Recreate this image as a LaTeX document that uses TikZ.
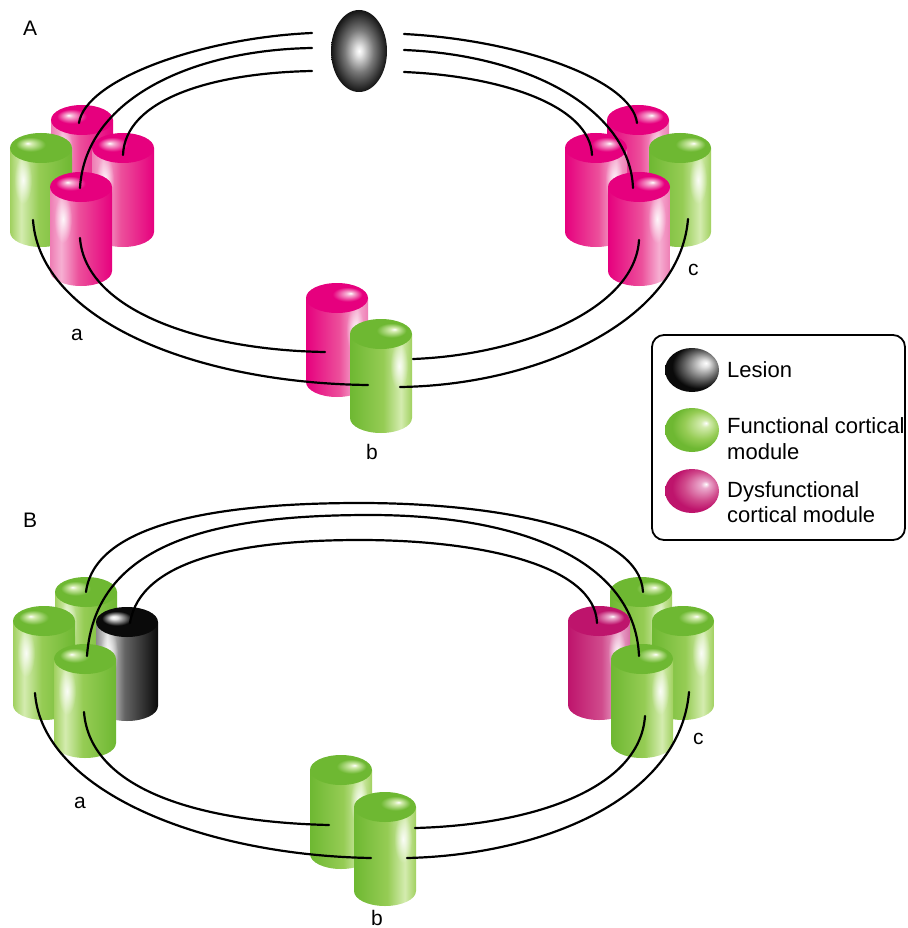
\documentclass[tikz,border=0pt]{standalone}
\usepackage{fontspec}
\setmainfont{Liberation Sans}
\usetikzlibrary{fadings}

\definecolor{pkD}{RGB}{230,0,126}
\definecolor{pkM}{RGB}{236,80,155}
\definecolor{pkL}{RGB}{246,175,210}
\definecolor{pkE}{RGB}{238,125,180}
\definecolor{grD}{RGB}{110,184,50}
\definecolor{grM}{RGB}{150,204,85}
\definecolor{grL}{RGB}{212,236,175}
\definecolor{grE}{RGB}{160,208,95}
\definecolor{dmD}{RGB}{190,20,108}
\definecolor{dmM}{RGB}{208,75,140}
\definecolor{dmL}{RGB}{235,170,205}
\definecolor{dmE}{RGB}{215,110,165}
\definecolor{bkD}{RGB}{10,10,10}
\definecolor{bkM}{RGB}{100,100,100}
\definecolor{bkL}{RGB}{225,225,225}
\definecolor{bkE}{RGB}{140,140,140}
\definecolor{lgA}{RGB}{230,230,230}
\definecolor{lgB}{RGB}{120,120,120}
\definecolor{lgC}{RGB}{20,20,20}

\newcommand\mkshade[5]{%
 \pgfdeclarehorizontalshading{#1bodyR}{100bp}{color(0bp)=(#2); color(25bp)=(#2); color(52bp)=(#3); color(66bp)=(#4); color(75bp)=(#5); color(100bp)=(#5)}%
 \pgfdeclarehorizontalshading{#1bodyL}{100bp}{color(0bp)=(#5); color(25bp)=(#5); color(34bp)=(#4); color(48bp)=(#3); color(75bp)=(#2); color(100bp)=(#2)}%
 \pgfdeclareradialshading{#1topR}{\pgfpoint{11bp}{8bp}}{color(0bp)=(white); color(3bp)=(#4); color(12bp)=(#2); color(50bp)=(#2)}%
 \pgfdeclareradialshading{#1topL}{\pgfpoint{-11bp}{8bp}}{color(0bp)=(white); color(3bp)=(#4); color(12bp)=(#2); color(50bp)=(#2)}%
 \pgfdeclareradialshading{#1ball}{\pgfpoint{13bp}{8bp}}{color(0bp)=(white); color(4bp)=(#4); color(16bp)=(#3); color(25bp)=(#2); color(50bp)=(#2)}%
}
\mkshade{pk}{pkD}{pkM}{pkL}{pkE}
\mkshade{gr}{grD}{grM}{grL}{grE}
\mkshade{dm}{dmD}{dmM}{dmL}{dmE}
\mkshade{bk}{bkD}{bkM}{bkL}{bkE}
\pgfdeclareradialshading{lesionsh}{\pgfpoint{0bp}{0bp}}{color(0bp)=(white); color(3bp)=(lgA); color(13bp)=(lgB); color(25bp)=(lgC); color(50bp)=(lgC)}
\tikzfading[name=glowfade, inner color=transparent!0, outer color=transparent!100]

\def\sgnL{(-1)}
\def\sgnR{(1)}
% cylinder: centre x, top-centre y (pixels, downward), colour family, light side
\newcommand\cyl[4]{%
 \shade[shading=#3body#4] ({#1-31},{-(#2)}) -- ({#1-31},{-(#2)-84})
   arc[start angle=180,end angle=360,x radius=31,y radius=15] -- ({#1+31},{-(#2)}) -- cycle;
 \fill[white,path fading=glowfade,opacity=0.9] ({#1+\csname sgn#4\endcsname*18},{-(#2)-32}) ellipse[x radius=9,y radius=24];
 \shade[shading=#3top#4] (#1,{-(#2)}) ellipse[x radius=31,y radius=15];
}

\begin{document}
\begin{tikzpicture}[x=1pt,y=1pt,
  fiber/.style={line width=2.2pt,line cap=round,black},
  lab/.style={font=\fontsize{21}{25}\selectfont,inner sep=0pt,anchor=base west},
  legtext/.style={font=\fontsize{22}{26}\selectfont,inner sep=0pt,anchor=base west}]
\fill[white] (0,0) rectangle (907,-928);
\useasboundingbox (0,0) rectangle (907,-928);

% ---------------- Panel A ----------------
\node[lab] (labA) at (23,-36) {A};
\shade[shading=lesionsh] (359,-51) ellipse[x radius=28,y radius=41];

\cyl{82}{120}{pk}{L}
\cyl{41}{148}{gr}{L}
\cyl{123}{148}{pk}{L}
\cyl{81}{187}{pk}{L}

\cyl{638}{120}{pk}{R}
\cyl{596}{148}{pk}{R}
\cyl{680}{148}{gr}{R}
\cyl{639}{187}{pk}{R}

\cyl{337}{298}{pk}{R}
\cyl{381}{334}{gr}{R}

\coordinate (LL1) at (312,-33);
\coordinate (LL2) at (312,-48);
\coordinate (LL3) at (312,-71);
\coordinate (LR1) at (404,-34);
\coordinate (LR2) at (404,-50);
\coordinate (LR3) at (404,-72);
\coordinate (ALback) at (79,-123);
\coordinate (ALfront) at (80,-188);
\coordinate (ALright) at (123,-155);
\coordinate (ALgreenM) at (33,-220);
\coordinate (ALfrontM) at (80,-238);
\coordinate (ARback) at (637,-123);
\coordinate (ARfront) at (633,-188);
\coordinate (ARleft) at (592,-155);
\coordinate (ARfrontM) at (639,-240);
\coordinate (ARgreenM) at (688,-219);
\coordinate (ABpink) at (325,-352);
\coordinate (ABgreenL) at (368,-385);
\coordinate (ABgreenR1) at (413,-359);
\coordinate (ABgreenR2) at (400,-387);

\draw[fiber] (LL1) .. controls (200,-38) and (85,-80) .. (ALback);
\draw[fiber] (LL2) .. controls (190,-50) and (85,-100) .. (ALfront);
\draw[fiber] (LL3) .. controls (210,-73) and (125,-100) .. (ALright);
\draw[fiber] (LR1) .. controls (520,-40) and (632,-80) .. (ARback);
\draw[fiber] (LR2) .. controls (530,-55) and (630,-110) .. (ARfront);
\draw[fiber] (LR3) .. controls (500,-76) and (590,-105) .. (ARleft);
\draw[fiber] (ALgreenM) .. controls (40,-320) and (195,-383) .. (ABgreenL);
\draw[fiber] (ALfrontM) .. controls (85,-310) and (200,-350) .. (ABpink);
\draw[fiber] (ARgreenM) .. controls (680,-320) and (540,-385) .. (ABgreenR2);
\draw[fiber] (ARfrontM) .. controls (635,-310) and (520,-355) .. (ABgreenR1);

\node[lab] (laba) at (71,-340) {a};
\node[lab] (labb) at (366,-459) {b};
\node[lab] (labc) at (688,-275) {c};

% ---------------- Legend ----------------
\draw[line width=1.8pt,rounded corners=12pt] (652,-335) rectangle (905,-540);
\shade[shading=bkball] (692,-370) ellipse[x radius=27,y radius=22];
\shade[shading=grball] (692,-430) ellipse[x radius=27,y radius=22];
\shade[shading=dmball] (692,-491) ellipse[x radius=27,y radius=22];
\node[legtext] (t1) at (727,-377) {Lesion};
\node[legtext] (t2) at (727,-433) {Functional cortical};
\node[legtext] (t3) at (727,-459) {module};
\node[legtext] (t4) at (727,-497) {Dysfunctional};
\node[legtext] (t5) at (727,-522) {cortical module};

% ---------------- Panel B ----------------
\node[lab] (labB) at (23,-527) {B};

\cyl{86}{592}{gr}{L}
\cyl{44}{621}{gr}{L}
\cyl{127}{622}{bk}{L}
\cyl{85}{659}{gr}{L}

\cyl{641}{592}{gr}{R}
\cyl{599}{621}{dm}{R}
\cyl{683}{621}{gr}{R}
\cyl{642}{659}{gr}{R}

\cyl{341}{770}{gr}{R}
\cyl{385}{807}{gr}{R}

\coordinate (BLback) at (86,-592);
\coordinate (BLfront) at (87,-656);
\coordinate (BLblack) at (130,-623);
\coordinate (BLgreenM) at (35,-693);
\coordinate (BLfrontM) at (84,-712);
\coordinate (BRback) at (643,-592);
\coordinate (BRfront) at (639,-656);
\coordinate (BRpink) at (597,-623);
\coordinate (BRfrontM) at (645,-716);
\coordinate (BRgreenM) at (689,-692);
\coordinate (BBg1) at (329,-825);
\coordinate (BBg2L) at (371,-858);
\coordinate (BBg2R1) at (415,-828);
\coordinate (BBg2R2) at (407,-858);

\draw[fiber] (BLback) .. controls (95,-520) and (230,-503) .. (360,-503) .. controls (500,-503) and (640,-530) .. (BRback);
\draw[fiber] (BLfront) .. controls (95,-540) and (220,-515) .. (370,-515) .. controls (520,-515) and (635,-560) .. (BRfront);
\draw[fiber] (BLblack) .. controls (140,-560) and (240,-540) .. (360,-540) .. controls (480,-540) and (595,-565) .. (BRpink);
\draw[fiber] (BLgreenM) .. controls (42,-790) and (200,-855) .. (BBg2L);
\draw[fiber] (BLfrontM) .. controls (90,-790) and (200,-822) .. (BBg1);
\draw[fiber] (BRgreenM) .. controls (680,-800) and (540,-855) .. (BBg2R2);
\draw[fiber] (BRfrontM) .. controls (640,-790) and (530,-825) .. (BBg2R1);

\node[lab] (labBa) at (74,-808) {a};
\node[lab] (labBb) at (371,-925) {b};
\node[lab] (labBc) at (693,-744) {c};
\end{tikzpicture}
\end{document}
